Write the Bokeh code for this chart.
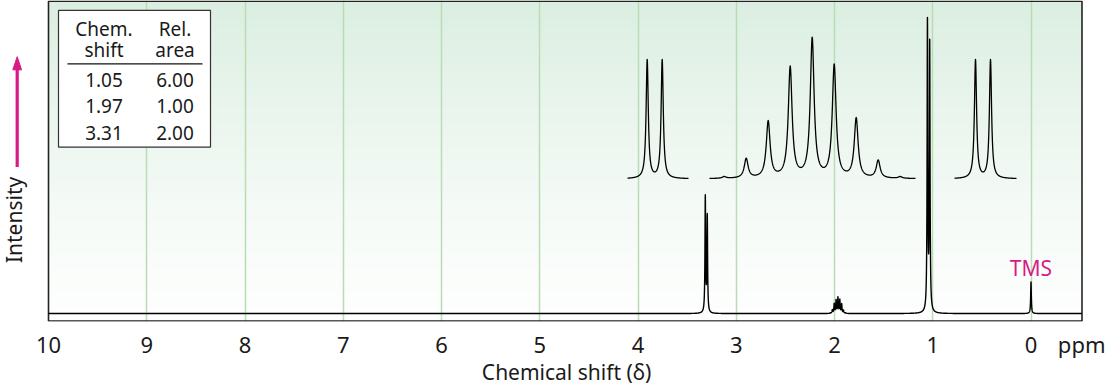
import numpy as np
from bokeh.plotting import figure
from bokeh.models import Range1d, FixedTicker
from bokeh.core.properties import value
from bokeh.embed import file_html
from bokeh.resources import INLINE

# ---------------- data ----------------
table_shift = [1.05, 1.97, 3.31]
table_area = [6.00, 1.00, 2.00]
table_head = [["Chem.", "shift"], ["Rel.", "area"]]

x_ticks = [10, 9, 8, 7, 6, 5, 4, 3, 2, 1, 0]
unit_label = "ppm"
x_title = "Chemical shift (δ)"
y_title = "Intensity"
ref_label = "TMS"

# main spectrum lines: position (ppm) and apparent peak height (1.05 ppm line = 100)
tms_ppm = [0.0]
tms_height = [10.7]
ch3_ppm = [1.054, 1.031]
ch3_height = [100.0, 92.6]
ch_ppm = [2.041, 2.022, 2.003, 1.984, 1.965, 1.946, 1.927, 1.908, 1.889]
ch_height = [0.3, 1.4, 3.5, 4.8, 5.7, 4.9, 3.4, 1.2, 0.3]
ch2_ppm = [3.315, 3.295]
ch2_height = [40.1, 33.8]

# expanded multiplets (apparent heights above the expansion baseline)
ch2_inset_height = [40.3, 40.3]
ch_inset_height = [0.8, 7.0, 19.7, 38.1, 47.8, 38.8, 20.7, 6.4, 0.8]
ch3_inset_height = [40.3, 40.3]

# ---------------- layout helpers ----------------
PX_PER_PPM = 98.25
PX_PER_UNIT = 2.99
AREA_LEFT = 48.0       # page x of 10 ppm
AREA_RIGHT = 1081.5
AREA_TOP = 0.8
AREA_BOTTOM = 323.5
BASE_Y = 316.0         # page y of zero intensity
FRAME_H = 324


def X(px):
    return 10.0 - (px - AREA_LEFT) / PX_PER_PPM


def Y(py):
    return (BASE_Y - py) / PX_PER_UNIT


def lor(x, c, h, w):
    return h * w * w / ((x - c) ** 2 + w * w)


def amplitudes(pos, tops, w):
    """Lorentzian amplitudes whose summed curve has the given apparent tops."""
    pos = np.asarray(pos, dtype=float)
    A = w * w / ((pos[:, None] - pos[None, :]) ** 2 + w * w)
    return np.linalg.solve(A, np.asarray(tops, dtype=float))


FONT = "Noto Sans"
MAG = "#d81b84"
INK = "#1a1a1a"

p = figure(
    width=1105, height=388,
    x_range=Range1d(X(0), X(1105)), y_range=Range1d(Y(FRAME_H), Y(0)),
    output_backend="svg", toolbar_location=None, y_axis_location=None,
    min_border_left=0, min_border_right=0, min_border_top=0,
    min_border_bottom=388 - FRAME_H,
    background_fill_color="white", border_fill_color="white",
    outline_line_color=None,
)

# gradient background of the plotting area
n = 330
t = np.linspace(0.0, 1.0, n)[:, None]
bottom_c = np.array([253.0, 254.0, 253.0])
top_c = np.array([219.0, 238.0, 225.0])
cols = bottom_c + (top_c - bottom_c) * t ** 1.3
img = np.empty((n, 2), dtype=np.uint32)
view = img.view(dtype=np.uint8).reshape((n, 2, 4))
for k in range(3):
    view[:, :, k] = np.round(cols[:, k])[:, None].astype(np.uint8)
view[:, :, 3] = 255
p.image_rgba(image=[img], x=X(AREA_RIGHT), y=Y(AREA_BOTTOM),
             dw=X(AREA_LEFT) - X(AREA_RIGHT), dh=Y(AREA_TOP) - Y(AREA_BOTTOM),
             level="image")

# grid
p.xgrid.ticker = FixedTicker(ticks=x_ticks[1:])
p.xgrid.grid_line_color = "#b9dcb5"
p.xgrid.grid_line_width = 1.5
p.ygrid.visible = False

# x axis
ax = p.xaxis[0]
ppm_pos = X(AREA_RIGHT)
ax.ticker = FixedTicker(ticks=x_ticks + [ppm_pos])
overrides = {tk: str(tk) for tk in x_ticks}
overrides[ppm_pos] = unit_label
ax.major_label_overrides = overrides
ax.axis_line_color = None
ax.major_tick_line_color = None
ax.minor_tick_line_color = None
ax.major_tick_out = 0
ax.major_tick_in = 0
ax.major_label_standoff = 7
ax.major_label_text_font = FONT
ax.major_label_text_font_size = "22px"
ax.major_label_text_color = INK
ax.axis_label = "\u00a0" * 5 + x_title
ax.axis_label_text_font = FONT
ax.axis_label_text_font_size = "21px"
ax.axis_label_text_font_style = "normal"
ax.axis_label_text_color = INK
ax.axis_label_standoff = -4

# plotting-area border
p.quad(left=X(AREA_LEFT), right=X(AREA_RIGHT), top=Y(AREA_TOP), bottom=Y(AREA_BOTTOM),
       fill_color=None, line_color="#222222", line_width=1.6)

# main spectrum
W_MAIN = 0.004
all_ppm = np.array(tms_ppm + ch3_ppm + ch_ppm + ch2_ppm)
all_h = np.array(tms_height + ch3_height + ch_height + ch2_height)
amp = amplitudes(all_ppm, all_h, W_MAIN)
xs = np.union1d(np.linspace(X(AREA_RIGHT), 10.0, 21041), all_ppm)
ys = np.zeros_like(xs)
for c, a in zip(all_ppm, amp):
    ys += lor(xs, c, a, W_MAIN)
p.line(xs, ys, line_color="black", line_width=1.4, line_join="round")

# expansions
insets = [
    (ch2_ppm, ch2_inset_height, 654.2, 15.0, 627.0, 688.0, 1.3),
    (ch_ppm, ch_inset_height, 811.7, 22.0, 709.0, 915.0, 2.3),
    (ch3_ppm, ch3_inset_height, 982.5, 15.0, 954.0, 1016.0, 1.3),
]
inset_base = Y(180.0)
for lines, heights, cpx, spx, lpx, rpx, wpx in insets:
    lines = np.array(lines)
    actual = abs(lines[0] - lines[1])
    scale = (spx / PX_PER_PPM) / actual
    pos = X(cpx) + (lines - lines.mean()) * scale
    w = wpx / PX_PER_PPM
    a_in = amplitudes(pos, heights, w)
    xi = np.union1d(np.linspace(X(rpx), X(lpx), 900), pos)
    yi = np.full_like(xi, inset_base)
    for c, a in zip(pos, a_in):
        yi += lor(xi, c, a, w)
    p.line(xi, yi, line_color="black", line_width=1.3, line_join="round")

# table
p.quad(left=X(58), right=X(210), top=Y(10), bottom=Y(148),
       fill_color="white", line_color="#333333", line_width=1.2)
p.line([X(67), X(202)], [Y(64), Y(64)], line_color="#111111", line_width=1.3)
col_x = [X(103.5), X(174.5)]
head_y = [Y(28.5), Y(50.2)]
tx, ty, tt = [], [], []
for ci, head in enumerate(table_head):
    for ri, word in enumerate(head):
        tx.append(col_x[ci]); ty.append(head_y[ri]); tt.append(word)
row_y = [Y(80.6), Y(106.6), Y(133.3)]
for ri in range(len(table_shift)):
    tx += [col_x[0], col_x[1]]
    ty += [row_y[ri], row_y[ri]]
    tt += [f"{table_shift[ri]:.2f}", f"{table_area[ri]:.2f}"]
p.text(x=tx, y=ty, text=tt, text_font=value(FONT), text_font_size="19px",
       text_align="center", text_baseline="middle", text_color=INK)

# TMS label
p.text(x=[tms_ppm[0]], y=[Y(269.5)], text=[ref_label], text_font=value(FONT),
       text_font_size="21px", text_align="center", text_baseline="middle",
       text_color=MAG)

# y title and arrow
p.text(x=[X(13.0)], y=[Y(221.5)], text=[y_title], angle=np.pi / 2,
       text_font=value(FONT), text_font_size="21px", text_align="center",
       text_baseline="middle", text_color=INK)
p.segment(x0=[X(16.7)], y0=[Y(168)], x1=[X(16.7)], y1=[Y(68)],
          line_color=MAG, line_width=3.2)
p.patch(x=[X(12.3), X(21.1), X(16.7)], y=[Y(70), Y(70), Y(56.7)],
        fill_color=MAG, line_color=MAG, line_width=1)

open("out.html", "w").write(file_html(p, INLINE))
